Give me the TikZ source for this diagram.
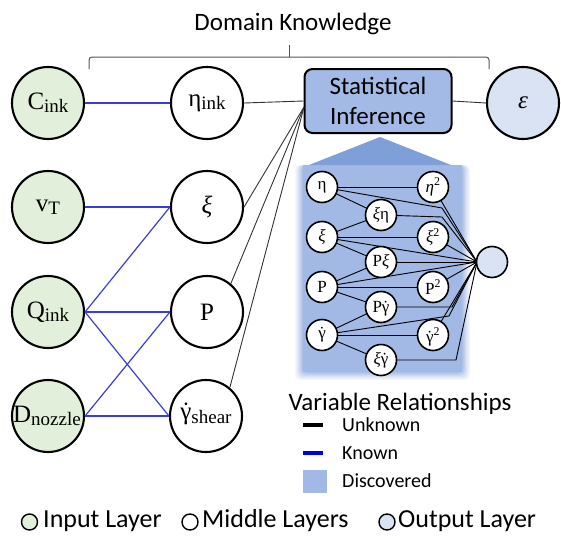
\documentclass[tikz,border=0pt]{standalone}
\usepackage{fontspec}
\setmainfont{Carlito}
\newfontfamily\serif{Liberation Serif}
\usetikzlibrary{calc}
\definecolor{ingreen}{HTML}{E2EFDA}
\definecolor{outblue}{HTML}{DAE3F3}
\definecolor{boxblue}{HTML}{A4BAE6}
\definecolor{triblue}{HTML}{7F9FD9}
\definecolor{discblue}{HTML}{A2B9E5}
\definecolor{knownline}{HTML}{3C3CD8}
\definecolor{bracegray}{HTML}{555555}
\newcommand\sbs[1]{\raisebox{-0.3ex}{\fontsize{19}{19}\selectfont #1}}
\newcommand\gdot{\ooalign{γ\cr\hidewidth˙\hidewidth}}
\newcommand\sq{\textsuperscript{2}}
\begin{document}
\begin{tikzpicture}[x=1pt,y=-1pt,
  big/.style={circle,draw=black,line width=2.1pt,minimum size=72pt,inner sep=0pt,font=\serif\fontsize{25}{25}\selectfont},
  incirc/.style={big,fill=ingreen},
  midcirc/.style={big,fill=white},
  outcirc/.style={big,fill=outblue},
  small/.style={circle,draw=black,line width=1.6pt,fill=white,minimum size=31pt,inner sep=0pt,font=\serif\fontsize{17}{17}\selectfont},
  known/.style={draw=knownline,line width=1.2pt},
  unknown/.style={draw=black!80,line width=0.9pt},
  subl/.style={draw=black,line width=0.9pt},
  txt/.style={font=\fontsize{25}{30}\selectfont,inner sep=0pt},
  legtxt/.style={font=\fontsize{20}{22}\selectfont,anchor=west,inner sep=0pt},
  legcirc/.style={circle,draw=black,line width=1.4pt,minimum size=16pt,inner sep=0pt}]
\useasboundingbox (0,0) rectangle (561,535);
% discovered shading (soft edge by nested fills)
\foreach \i/\p in {8/12,7/20,6/30,5/40,4/52,3/64,2/76,1/88}{
  \fill[discblue!\p!white,rounded corners=5pt] ({303-\i},{165}) rectangle ({462+\i},{372+\i});
}
\fill[discblue] (303,165) rectangle (462,372);
% triangle
\fill[triblue] (309,165) -- (380,137) -- (451,165) -- cycle;
% brace
\draw[bracegray,line width=1pt,rounded corners=3pt] (89,69) -- (89,57) -- (289,57) -- (489,57) -- (489,69);
\draw[bracegray,line width=1pt] (289,57) -- (289,45);
\node[txt] (dk) at (293,24) {Domain Knowledge};
% main nodes
\node[incirc] (cink) at (48,103) {C\sbs{ink}};
\node[midcirc] (etaink) at (207,103) {η\sbs{ink}};
\node[draw=black,line width=2pt,fill=boxblue,rounded corners=8pt,minimum width=147pt,minimum height=64pt,align=center,font=\fontsize{25}{30}\selectfont] (stat) at (378,101) {Statistical\\Inference};
\node[outcirc] (eps) at (523,103) {\itshape ε};
\node[incirc] (vt) at (48,207) {v\sbs{T}};
\node[midcirc] (xi) at (207,207) {\itshape ξ};
\node[incirc] (qink) at (48,312) {Q\sbs{ink}};
\node[midcirc] (p) at (207,312) {P};
\node[incirc] (dn) at (48,416) {\hspace*{-2pt}D\sbs{nozzle}};
\node[midcirc] (gs) at (206,416) {\gdot\sbs{shear}};
% known links
\draw[known] (cink.east) -- (etaink.west);
\draw[known] (vt.east) -- (xi.west);
\draw[known] (qink.east) -- (xi.west);
\draw[known] (qink.east) -- (p.west);
\draw[known] (qink.east) -- (gs.west);
\draw[known] (dn.east) -- (p.west);
\draw[known] (dn.east) -- (gs.west);
% unknown links
\coordinate (cv) at (304,107);
\draw[unknown] (etaink.east) -- (stat.west);
\draw[unknown] (stat.east) -- (eps.west);
\draw[unknown] (xi.east) -- (cv);
\draw[unknown] (p.50) -- (cv);
\draw[unknown] (gs.50) -- (cv);
% sub network: links to output
\coordinate (o) at (477,262);
\coordinate (b1) at (442,208);
\coordinate (b2) at (442,217);
\coordinate (b3) at (452,307);
\coordinate (b4) at (449,316);
\coordinate (b5) at (456,360);
\draw[subl] (322,187) -- (b1) -- (o);
\draw[subl] (381,215) -- (b2) -- (o);
\draw[subl] (381,307) -- (b3) -- (o);
\draw[subl] (322,335) -- (b4) -- (o);
\draw[subl] (381,360) -- (b5) -- (o);
\draw[subl] (433,187) -- (o);
\draw[subl] (433,237) -- (o);
\draw[subl] (322,237) -- (o);
\draw[subl] (381,262) -- (o);
\draw[subl] (322,287) -- (o);
\draw[subl] (433,287) -- (o);
\draw[subl] (433,335) -- (o);
% sub network: inner links
\draw[subl] (322,187) -- (433,187);
\draw[subl] (322,187) -- (381,215);
\draw[subl] (322,237) -- (381,215);
\draw[subl] (322,237) -- (433,237);
\draw[subl] (322,237) -- (381,262);
\draw[subl] (322,287) -- (381,262);
\draw[subl] (322,287) -- (433,287);
\draw[subl] (322,287) -- (381,307);
\draw[subl] (322,335) -- (381,307);
\draw[subl] (322,335) -- (433,335);
\draw[subl] (322,335) -- (381,360);
\node[small] (s1) at (322,187) {η};
\node[small] (s2) at (322,237) {\itshape ξ};
\node[small] (s3) at (322,287) {P};
\node[small] (s4) at (322,335) {\gdot};
\node[small] (m1) at (381,215) {{\itshape ξ}η};
\node[small] (m2) at (381,262) {P{\itshape ξ}};
\node[small] (m3) at (381,307) {P\gdot};
\node[small] (m4) at (381,360) {{\itshape ξ}\gdot};
\node[small] (r1) at (433,187) {{\itshape η}\sq};
\node[small] (r2) at (433,237) {{\itshape ξ}\sq};
\node[small] (r3) at (433,287) {P\sq};
\node[small] (r4) at (433,335) {\gdot\sq};
\node[small,fill=outblue] (out) at (492,262) {};
% legend
\node[txt] (vr) at (400,404) {Variable Relationships};
\coordinate (k1a) at (303,425); \coordinate (k1b) at (323,425);
\coordinate (k2a) at (303,453); \coordinate (k2b) at (323,453);
\draw[black,line width=3.5pt] (k1a) -- (k1b);
\draw[blue!90!black,line width=3.5pt] (k2a) -- (k2b);
\fill[discblue] (303,470) rectangle (327,493);
\node[legtxt] (lu) at (342,425) {Unknown};
\node[legtxt] (lk) at (342,453) {Known};
\node[legtxt] (ld) at (342,481) {Discovered};
% bottom legend
\node[legcirc,fill=ingreen] (c1) at (29.5,522) {};
\node[txt,anchor=west,font=\fontsize{26}{30}\selectfont] (t1) at (43,521) {Input Layer};
\node[legcirc,fill=white] (c2) at (190,522) {};
\node[txt,anchor=west,font=\fontsize{26}{30}\selectfont] (t2) at (202,521) {Middle Layers};
\node[legcirc,fill=outblue] (c3) at (387,522) {};
\node[txt,anchor=west,font=\fontsize{26}{30}\selectfont] (t3) at (398,521) {Output Layer};
\end{tikzpicture}
\end{document}
